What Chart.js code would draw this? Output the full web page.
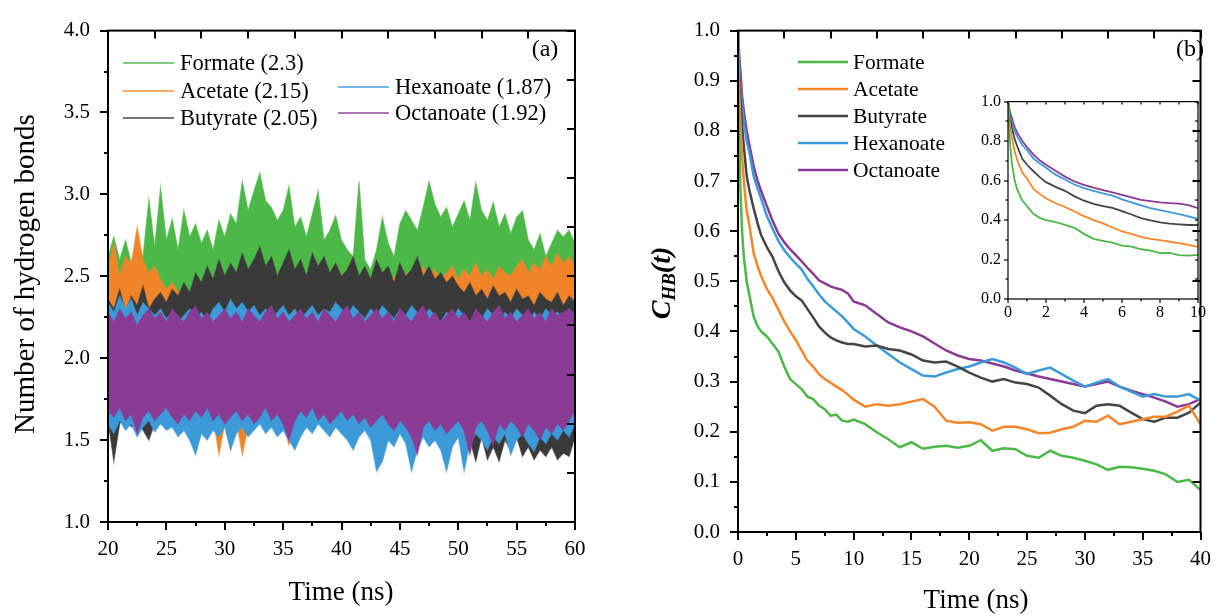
<!DOCTYPE html>
<html>
<head>
<meta charset="utf-8">
<script src="https://cdn.jsdelivr.net/npm/chart.js@4.4.1/dist/chart.umd.min.js"></script>
<style>
  body { margin: 0; background: #fff; }
  #wrap { position: relative; width: 1226px; height: 616px; overflow: hidden; }
  canvas { position: absolute; }
</style>
</head>
<body>
<div id="wrap">
  <canvas id="hbCount" width="613" height="616" style="left:0;top:0;width:613px;height:616px"></canvas>
  <canvas id="hbCorr" width="613" height="616" style="left:613px;top:0;width:613px;height:616px"></canvas>
  <canvas id="hbInset" width="250" height="245" style="left:960px;top:85px;width:250px;height:245px"></canvas>
</div>
<script>
const anions = ["Formate", "Acetate", "Butyrate", "Hexanoate", "Octanoate"]
const avgHB = [2.3, 2.15, 2.05, 1.87, 1.92]

// (a) hydrogen bond count, 20-60 ns, upper / lower swing per 0.5 ns
const hbStart = 20
const hbStep = 0.5
const formateHi = [
  2.62, 2.74, 2.6, 2.72, 2.58, 2.7, 2.62, 2.97, 2.68, 3.04,
  2.72, 2.85, 2.66, 2.9, 2.74, 2.82, 2.7, 2.78, 2.66, 2.84,
  2.74, 2.88, 2.82, 3.08, 2.9, 3.02, 3.13, 2.96, 2.92, 2.84,
  2.9, 3.05, 2.8, 2.86, 2.74, 2.88, 3.02, 2.72, 2.78, 2.87,
  2.72, 2.66, 2.62, 3.08, 2.6, 2.54, 2.66, 2.86, 2.7, 2.62,
  2.82, 2.9, 2.84, 2.78, 2.92, 3.08, 2.94, 2.86, 2.92, 2.8,
  2.88, 2.96, 2.84, 3.07, 2.9, 2.84, 2.95, 2.8, 2.88, 2.76,
  2.86, 2.9, 2.72, 2.66, 2.76, 2.62, 2.7, 2.78, 2.74, 2.78,
  2.7]
const formateLo = [
  2.08, 2.0, 2.12, 2.04, 2.1, 1.98, 2.06, 2.14, 2.02, 2.1,
  2.16, 2.04, 2.12, 2.2, 2.08, 2.14, 2.06, 2.18, 2.1, 2.04,
  2.16, 2.22, 2.12, 2.18, 2.24, 2.14, 2.2, 2.26, 2.16, 2.1,
  2.18, 2.22, 2.12, 2.06, 2.14, 2.2, 2.1, 2.04, 2.12, 2.16,
  2.08, 2.02, 2.1, 2.06, 2.0, 2.08, 2.04, 2.12, 2.06, 2.1,
  2.14, 2.2, 2.12, 2.18, 2.24, 2.16, 2.22, 2.14, 2.2, 2.12,
  2.18, 2.24, 2.16, 2.1, 2.2, 2.14, 2.08, 2.16, 2.1, 2.04,
  2.12, 2.08, 2.02, 2.1, 2.06, 2.0, 2.08, 2.04, 2.1, 2.06,
  2.02]
const acetateHi = [
  2.55, 2.7, 2.5, 2.62, 2.58, 2.8, 2.6, 2.52, 2.56, 2.48,
  2.42, 2.46, 2.4, 2.44, 2.38, 2.42, 2.4, 2.44, 2.36, 2.4,
  2.38, 2.42, 2.4, 2.36, 2.44, 2.4, 2.38, 2.42, 2.4, 2.44,
  2.42, 2.48, 2.42, 2.46, 2.44, 2.48, 2.5, 2.56, 2.52, 2.58,
  2.5, 2.46, 2.48, 2.44, 2.4, 2.44, 2.42, 2.46, 2.44, 2.5,
  2.46, 2.52, 2.48, 2.5, 2.56, 2.5, 2.54, 2.48, 2.52, 2.56,
  2.48, 2.54, 2.5, 2.58, 2.5, 2.54, 2.48, 2.56, 2.52, 2.5,
  2.56, 2.6, 2.52, 2.58, 2.54, 2.62, 2.56, 2.64, 2.58, 2.62,
  2.56]
const acetateLo = [
  1.7, 1.64, 1.72, 1.66, 1.7, 1.62, 1.68, 1.74, 1.66, 1.7,
  1.64, 1.68, 1.6, 1.66, 1.58, 1.47, 1.62, 1.56, 1.64, 1.41,
  1.6, 1.44, 1.62, 1.41, 1.58, 1.64, 1.6, 1.66, 1.62, 1.68,
  1.6, 1.47, 1.62, 1.66, 1.7, 1.64, 1.68, 1.72, 1.66, 1.7,
  1.64, 1.68, 1.72, 1.66, 1.7, 1.64, 1.68, 1.72, 1.66, 1.62,
  1.68, 1.72, 1.64, 1.68, 1.7, 1.66, 1.72, 1.68, 1.64, 1.7,
  1.66, 1.72, 1.68, 1.64, 1.7, 1.66, 1.72, 1.68, 1.7, 1.64,
  1.68, 1.72, 1.66, 1.7, 1.74, 1.68, 1.72, 1.66, 1.7, 1.74,
  1.7]
const butyrateHi = [
  2.36, 2.3, 2.42, 2.28, 2.38, 2.32, 2.44, 2.3, 2.36, 2.4,
  2.34, 2.42, 2.38, 2.46, 2.4, 2.52, 2.46, 2.56, 2.48, 2.6,
  2.5, 2.58, 2.52, 2.64, 2.54, 2.6, 2.68, 2.56, 2.62, 2.5,
  2.58, 2.66, 2.54, 2.6, 2.5, 2.64, 2.56, 2.62, 2.52, 2.58,
  2.5, 2.54, 2.62, 2.5, 2.56, 2.48, 2.6, 2.52, 2.56, 2.46,
  2.58, 2.5, 2.54, 2.62, 2.5, 2.56, 2.48, 2.52, 2.46, 2.5,
  2.44, 2.4, 2.46, 2.38, 2.42, 2.36, 2.44, 2.38, 2.4, 2.34,
  2.42, 2.36, 2.38, 2.32, 2.4, 2.36, 2.34, 2.4, 2.32, 2.38,
  2.34]
const butyrateLo = [
  1.62, 1.37, 1.6, 1.64, 1.58, 1.62, 1.56, 1.5, 1.6, 1.64,
  1.58, 1.62, 1.56, 1.6, 1.64, 1.58, 1.62, 1.66, 1.6, 1.64,
  1.58, 1.62, 1.66, 1.6, 1.64, 1.68, 1.62, 1.66, 1.6, 1.64,
  1.68, 1.62, 1.66, 1.6, 1.64, 1.68, 1.62, 1.66, 1.6, 1.64,
  1.62, 1.58, 1.64, 1.6, 1.66, 1.62, 1.58, 1.64, 1.6, 1.56,
  1.62, 1.58, 1.64, 1.6, 1.56, 1.62, 1.58, 1.54, 1.6, 1.56,
  1.52, 1.58, 1.5, 1.37, 1.52, 1.38, 1.46, 1.37, 1.5, 1.44,
  1.52, 1.4, 1.46, 1.38, 1.44, 1.4, 1.46, 1.38, 1.42, 1.4,
  1.52]
const hexanoateHi = [
  2.34, 2.28, 2.38, 2.3, 2.36, 2.26, 2.34, 2.3, 2.26, 2.3,
  2.24, 2.28, 2.22, 2.26, 2.3, 2.24, 2.28, 2.22, 2.3, 2.34,
  2.28, 2.36, 2.3, 2.34, 2.28, 2.32, 2.26, 2.3, 2.24, 2.28,
  2.32, 2.26, 2.3, 2.24, 2.28, 2.32, 2.26, 2.3, 2.28, 2.34,
  2.3, 2.26, 2.32, 2.28, 2.24, 2.3, 2.26, 2.32, 2.28, 2.24,
  2.3, 2.26, 2.32, 2.28, 2.24, 2.3, 2.26, 2.22, 2.28, 2.24,
  2.3, 2.26, 2.22, 2.28, 2.24, 2.3, 2.26, 2.22, 2.28, 2.24,
  2.3, 2.26, 2.22, 2.28, 2.24, 2.3, 2.26, 2.28, 2.24, 2.3,
  2.26]
const hexanoateLo = [
  1.6, 1.54, 1.62, 1.56, 1.6, 1.52, 1.58, 1.62, 1.55, 1.6,
  1.56, 1.58, 1.52, 1.56, 1.5, 1.41, 1.54, 1.5, 1.56, 1.52,
  1.58, 1.44, 1.54, 1.58, 1.52, 1.56, 1.6, 1.54, 1.58, 1.52,
  1.56, 1.5, 1.44, 1.52, 1.58, 1.54, 1.6, 1.56, 1.52, 1.58,
  1.54, 1.5, 1.44, 1.52, 1.56, 1.5, 1.31, 1.37, 1.5, 1.46,
  1.54, 1.48, 1.31, 1.44, 1.52, 1.46, 1.5, 1.44, 1.31, 1.46,
  1.52, 1.31, 1.48, 1.54, 1.5, 1.44, 1.52, 1.48, 1.54, 1.41,
  1.5, 1.54, 1.48, 1.43, 1.52, 1.48, 1.54, 1.5, 1.56, 1.52,
  1.6]
const octanoateHi = [
  2.28, 2.22, 2.3, 2.24, 2.28, 2.2, 2.26, 2.3, 2.24, 2.28,
  2.22, 2.3, 2.26, 2.22, 2.28, 2.32, 2.24, 2.28, 2.22, 2.26,
  2.3, 2.24, 2.28, 2.22, 2.3, 2.26, 2.22, 2.28, 2.32, 2.24,
  2.28, 2.22, 2.26, 2.3, 2.24, 2.28, 2.22, 2.3, 2.26, 2.22,
  2.28, 2.32, 2.24, 2.28, 2.22, 2.26, 2.3, 2.24, 2.28, 2.22,
  2.3, 2.26, 2.22, 2.28, 2.32, 2.24, 2.28, 2.22, 2.26, 2.3,
  2.24, 2.28, 2.22, 2.3, 2.26, 2.22, 2.28, 2.32, 2.24, 2.28,
  2.22, 2.26, 2.3, 2.24, 2.28, 2.22, 2.3, 2.26, 2.28, 2.3,
  2.26]
const octanoateLo = [
  1.68, 1.64, 1.7, 1.62, 1.66, 1.54, 1.64, 1.68, 1.62, 1.66,
  1.7, 1.64, 1.6, 1.66, 1.62, 1.68, 1.64, 1.7, 1.62, 1.66,
  1.6, 1.64, 1.68, 1.62, 1.66, 1.6, 1.64, 1.7, 1.62, 1.66,
  1.6, 1.5, 1.62, 1.68, 1.64, 1.7, 1.62, 1.66, 1.6, 1.64,
  1.68, 1.62, 1.66, 1.6, 1.64, 1.58, 1.62, 1.66, 1.6, 1.56,
  1.62, 1.58, 1.52, 1.41, 1.58, 1.62, 1.56, 1.6, 1.54, 1.58,
  1.62, 1.56, 1.41, 1.58, 1.62, 1.56, 1.47, 1.6, 1.56, 1.62,
  1.58, 1.52, 1.6, 1.56, 1.5, 1.58, 1.54, 1.6, 1.56, 1.62,
  1.68]

// (b) hydrogen bond time correlation C_HB(t)
const corrTime = [0, 0.1, 0.2, 0.35, 0.5, 0.75, 1, 1.35, 1.7, 2, 2.5, 3, 3.5, 4, 4.5, 5, 5.5, 6, 6.5, 7, 7.5, 8, 8.5, 9, 9.5, 10,
  11, 12, 13, 14, 15, 16, 17, 18, 19, 20, 21, 22, 23, 24, 25, 26, 27, 28, 29, 30, 31, 32, 33, 34, 35, 36, 37, 38, 39, 40]
const formateCorr = [1.0, 0.8, 0.69, 0.6, 0.55, 0.5, 0.47, 0.43, 0.41, 0.4, 0.39, 0.375, 0.36, 0.33, 0.305, 0.295, 0.285, 0.27, 0.265, 0.252, 0.245, 0.232, 0.234, 0.222, 0.22, 0.224,
  0.215, 0.199, 0.185, 0.169, 0.179, 0.166, 0.17, 0.172, 0.168, 0.172,
  0.183, 0.162, 0.167, 0.165, 0.152, 0.148, 0.162, 0.152, 0.148, 0.142,
  0.135, 0.124, 0.13, 0.129, 0.126, 0.122, 0.115, 0.1, 0.104, 0.084]
const acetateCorr = [1.0, 0.88, 0.82, 0.75, 0.7, 0.64, 0.61, 0.556, 0.53, 0.51, 0.485, 0.466, 0.443, 0.42, 0.4, 0.383, 0.362, 0.342, 0.33, 0.315, 0.305, 0.298, 0.29, 0.283, 0.274, 0.264,
  0.25, 0.255, 0.252, 0.255, 0.26, 0.265, 0.25, 0.222, 0.218, 0.219,
  0.215, 0.202, 0.21, 0.21, 0.205, 0.197, 0.198, 0.205, 0.21, 0.222,
  0.22, 0.232, 0.215, 0.22, 0.225, 0.23, 0.23, 0.24, 0.252, 0.215]
const butyrateCorr = [1.0, 0.92, 0.87, 0.81, 0.77, 0.71, 0.68, 0.646, 0.615, 0.592, 0.568, 0.548, 0.52, 0.498, 0.482, 0.47, 0.462, 0.445, 0.428, 0.41, 0.398, 0.388, 0.382, 0.378, 0.375, 0.375,
  0.37, 0.372, 0.365, 0.362, 0.354, 0.342, 0.338, 0.34, 0.33, 0.318,
  0.308, 0.3, 0.305, 0.298, 0.295, 0.288, 0.272, 0.255, 0.242, 0.237,
  0.252, 0.255, 0.252, 0.238, 0.225, 0.22, 0.228, 0.228, 0.238, 0.258]
const hexanoateCorr = [1.0, 0.94, 0.9, 0.85, 0.82, 0.78, 0.755, 0.71, 0.685, 0.665, 0.63, 0.605, 0.58, 0.562, 0.548, 0.535, 0.524, 0.505, 0.49, 0.474, 0.46, 0.45, 0.44, 0.43, 0.418, 0.405,
  0.39, 0.372, 0.355, 0.338, 0.325, 0.312, 0.31, 0.318, 0.325, 0.33,
  0.338, 0.345, 0.338, 0.328, 0.315, 0.322, 0.328, 0.315, 0.302, 0.29,
  0.298, 0.305, 0.29, 0.28, 0.27, 0.275, 0.27, 0.27, 0.275, 0.262]
const octanoateCorr = [1.0, 0.95, 0.92, 0.87, 0.84, 0.8, 0.77, 0.73, 0.7, 0.68, 0.65, 0.62, 0.595, 0.578, 0.564, 0.552, 0.54, 0.527, 0.515, 0.502, 0.496, 0.49, 0.486, 0.483, 0.476, 0.46,
  0.452, 0.435, 0.418, 0.408, 0.4, 0.39, 0.376, 0.362, 0.352, 0.345,
  0.342, 0.336, 0.33, 0.322, 0.316, 0.31, 0.305, 0.3, 0.295, 0.29,
  0.295, 0.3, 0.29, 0.282, 0.275, 0.268, 0.26, 0.25, 0.255, 0.265]

const COLORS = ["#4cb848", "#f5862c", "#454545", "#3c9ad8", "#893a93"]
const BAND = ["rgb(76,184,72)", "rgb(240,132,40)", "rgb(58,58,58)", "rgb(60,154,216)", "rgb(138,60,148)"]
const EDGE = ["rgba(76,184,72,0.6)", "rgba(245,134,44,0.6)", "rgba(60,60,60,0.6)", "rgba(60,154,216,0.6)", "rgba(137,58,147,0.6)"]
const SERIF = "'Liberation Serif', 'Times New Roman', serif"

Chart.defaults.font.family = SERIF
Chart.defaults.color = "#000"

// box frame with outward major/minor ticks (left, bottom) and inward ticks (top, right)
const frameTicks = {
  id: "frameTicks",
  afterDatasetsDraw(chart, args, o) {
    const { ctx, chartArea: a } = chart
    const sx = chart.scales.x, sy = chart.scales.y
    const line = (x1, y1, x2, y2) => { ctx.beginPath(); ctx.moveTo(x1, y1); ctx.lineTo(x2, y2); ctx.stroke() }
    const marks = (min, max, step) => {
      const n = Math.round((max - min) / step)
      return Array.from({ length: n + 1 }, (_, k) => min + k * step)
    }
    const isMajor = (v, major) => Math.abs(v / major - Math.round(v / major)) < 1e-6
    ctx.save()
    ctx.strokeStyle = "#000"
    ctx.lineWidth = o.width
    marks(sx.min, sx.max, o.xMinor).forEach(v => {
      const px = Math.round(sx.getPixelForValue(v))
      line(px, a.bottom, px, a.bottom + (isMajor(v, o.xMajor) ? o.len : o.minorLen))
    })
    marks(sy.min, sy.max, o.yMinor).forEach(v => {
      const py = Math.round(sy.getPixelForValue(v))
      line(a.left, py, a.left - (isMajor(v, o.yMajor) ? o.len : o.minorLen), py)
    })
    marks(sx.min, sx.max, (sx.max - sx.min) / 10).forEach(v => {
      const px = Math.round(sx.getPixelForValue(v))
      line(px, a.top, px, a.top + o.innerLen)
    })
    marks(sy.min, sy.max, (sy.max - sy.min) / 10).forEach(v => {
      const py = Math.round(sy.getPixelForValue(v))
      line(a.right, py, a.right - o.innerLen, py)
    })
    ctx.strokeRect(a.left, a.top, a.right - a.left, a.bottom - a.top)
    ctx.restore()
  }
}

// axis titles, panel letters and hand-placed legends
const panelText = {
  id: "panelText",
  afterDraw(chart, args, o) {
    const ctx = chart.ctx
    ctx.save()
    ;(o.legend || []).forEach(item => {
      ctx.strokeStyle = item.color
      ctx.lineWidth = o.legendWidth
      ctx.beginPath()
      ctx.moveTo(item.x, item.y)
      ctx.lineTo(item.x + o.lineLen, item.y)
      ctx.stroke()
      ctx.fillStyle = "#000"
      ctx.font = `${o.legendSize}px ${SERIF}`
      ctx.textAlign = "left"
      ctx.textBaseline = "middle"
      ctx.fillText(item.label, item.x + o.lineLen + o.gap, item.y + 1)
    })
    ;(o.items || []).forEach(item => {
      ctx.save()
      ctx.translate(item.x, item.y)
      if (item.rotate) ctx.rotate(item.rotate)
      const runs = item.runs || [{ text: item.text }]
      const fontOf = r => `${r.style || item.style || ""} ${r.size || item.size}px ${SERIF}`
      let w = 0
      runs.forEach(r => { ctx.font = fontOf(r); w += ctx.measureText(r.text).width })
      let x = -w / 2
      ctx.fillStyle = "#000"
      ctx.textAlign = "left"
      ctx.textBaseline = "middle"
      runs.forEach(r => {
        ctx.font = fontOf(r)
        ctx.fillText(r.text, x, r.dy || 0)
        x += ctx.measureText(r.text).width
      })
      ctx.restore()
    })
    ctx.restore()
  }
}

function axes(o) {
  return {
    x: {
      type: "linear", min: o.x[0], max: o.x[1],
      grid: { display: false, drawTicks: false }, border: { display: false },
      ticks: { stepSize: o.x[2], padding: o.xPad, font: { size: o.size }, maxRotation: 0, autoSkip: false },
      afterFit: s => { s.height = o.xH }
    },
    y: {
      type: "linear", min: o.y[0], max: o.y[1],
      grid: { display: false, drawTicks: false }, border: { display: false },
      ticks: { stepSize: o.y[2], padding: o.yPad, font: { size: o.size }, autoSkip: false, callback: v => v.toFixed(1) },
      afterFit: s => { s.width = o.yW }
    }
  }
}

// (a) noisy count traces: band filled between the upper and lower swing
const hbHi = [formateHi, acetateHi, butyrateHi, hexanoateHi, octanoateHi]
const hbLo = [formateLo, acetateLo, butyrateLo, hexanoateLo, octanoateLo]
const toPoints = vals => vals.map((v, i) => ({ x: hbStart + i * hbStep, y: v }))

const countSets = []
anions.forEach((name, i) => {
  const order = anions.length - i
  countSets.push({
    label: name,
    data: toPoints(hbHi[i]),
    borderColor: EDGE[i],
    backgroundColor: BAND[i],
    borderWidth: 1.2,
    fill: "+1",
    pointRadius: 0,
    tension: 0,
    order
  })
  countSets.push({
    label: name + " low",
    data: toPoints(hbLo[i]),
    borderColor: EDGE[i],
    borderWidth: 1.2,
    fill: false,
    pointRadius: 0,
    tension: 0,
    order
  })
})

new Chart(document.getElementById("hbCount"), {
  type: "line",
  data: { datasets: countSets },
  options: {
    responsive: false,
    animation: false,
    devicePixelRatio: 1,
    layout: { padding: { top: 23, right: 38, left: 0, bottom: 0 } },
    scales: axes({ x: [20, 60, 5], y: [1, 4, 0.5], size: 21, xPad: 15, yPad: 18, xH: 94, yW: 108 }),
    plugins: {
      legend: { display: false },
      tooltip: { enabled: false },
      filler: { propagate: false },
      frameTicks: { xMajor: 5, xMinor: 2.5, yMajor: 0.5, yMinor: 0.25, len: 8, minorLen: 4, innerLen: 8, width: 2 },
      panelText: {
        lineLen: 51, gap: 6, legendSize: 22.5, legendWidth: 2,
        legend: [
          { label: `${anions[0]} (${avgHB[0]})`, color: "rgba(76,184,72,0.7)", x: 123, y: 63 },
          { label: `${anions[1]} (${avgHB[1]})`, color: "rgba(245,134,44,0.7)", x: 123, y: 91 },
          { label: `${anions[2]} (${avgHB[2]})`, color: "rgba(60,60,60,0.7)", x: 123, y: 118 },
          { label: `${anions[3]} (${avgHB[3]})`, color: "rgba(60,154,216,0.7)", x: 338, y: 87 },
          { label: `${anions[4]} (${avgHB[4]})`, color: "rgba(137,58,147,0.7)", x: 338, y: 113 }
        ],
        items: [
          { text: "(a)", x: 545, y: 50, size: 24 },
          { text: "Time (ns)", x: 341, y: 593, size: 27 },
          { text: "Number of hydrogen bonds", x: 26, y: 274, size: 29, rotate: -Math.PI / 2 }
        ]
      }
    }
  },
  plugins: [frameTicks, panelText]
})

// (b) correlation decay, main panel and 0-10 ns inset share the same series
const corrSeries = [formateCorr, acetateCorr, butyrateCorr, hexanoateCorr, octanoateCorr]
function corrSets(width) {
  return anions.map((name, i) => ({
    label: name,
    data: corrTime.map((t, k) => ({ x: t, y: corrSeries[i][k] })),
    borderColor: COLORS[i],
    borderWidth: width,
    pointRadius: 0,
    tension: 0
  }))
}

new Chart(document.getElementById("hbCorr"), {
  type: "line",
  data: { datasets: corrSets(2.5) },
  options: {
    responsive: false,
    animation: false,
    devicePixelRatio: 1,
    layout: { padding: { top: 24, right: 12, left: 0, bottom: 0 } },
    scales: axes({ x: [0, 40, 5], y: [0, 1, 0.1], size: 21, xPad: 15, yPad: 18, xH: 84, yW: 125 }),
    plugins: {
      legend: { display: false },
      tooltip: { enabled: false },
      frameTicks: { xMajor: 5, xMinor: 2.5, yMajor: 0.1, yMinor: 0.05, len: 8, minorLen: 4, innerLen: 8, width: 2 },
      panelText: {
        lineLen: 50, gap: 5, legendSize: 21.5, legendWidth: 2.5,
        legend: anions.map((name, i) => ({ label: name, color: COLORS[i], x: 185, y: 62 + i * 27 })),
        items: [
          { text: "(b)", x: 577, y: 50, size: 24 },
          { text: "Time (ns)", x: 363, y: 601, size: 27 },
          {
            x: 50, y: 283, rotate: -Math.PI / 2, size: 28, style: "italic bold",
            runs: [{ text: "C" }, { text: "HB", size: 19, dy: 7 }, { text: "(t)" }]
          }
        ]
      }
    }
  },
  plugins: [frameTicks, panelText]
})

new Chart(document.getElementById("hbInset"), {
  type: "line",
  data: { datasets: corrSets(1.8) },
  options: {
    responsive: false,
    animation: false,
    devicePixelRatio: 1,
    layout: { padding: { top: 12, right: 12, left: 0, bottom: 0 } },
    scales: axes({ x: [0, 10, 2], y: [0, 1, 0.2], size: 16, xPad: 4, yPad: 7, xH: 31, yW: 48 }),
    plugins: {
      legend: { display: false },
      tooltip: { enabled: false },
      frameTicks: { xMajor: 2, xMinor: 1, yMajor: 0.2, yMinor: 0.1, len: 4, minorLen: 2.5, innerLen: 3, width: 1.2 }
    }
  },
  plugins: [frameTicks]
})
</script>
</body>
</html>
